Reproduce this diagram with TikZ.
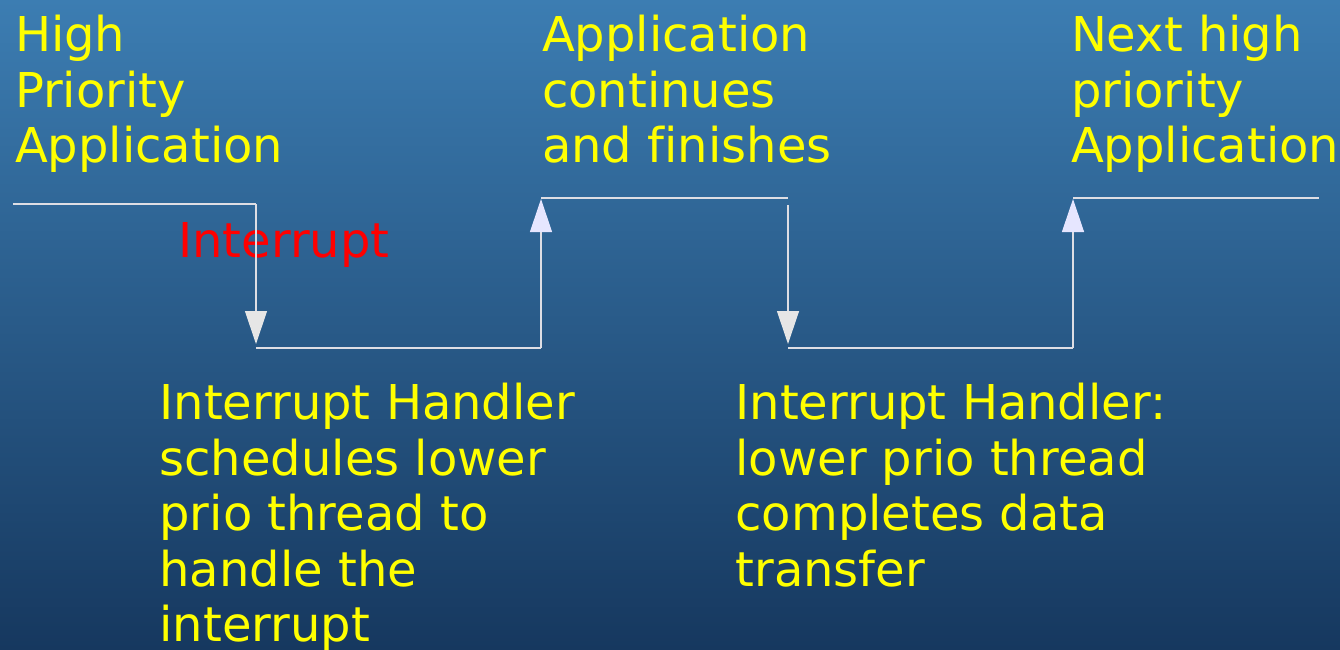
\documentclass[tikz,border=0pt]{standalone}
\usepackage{fontspec}
\setmainfont{DejaVu Sans}[Ligatures=NoCommon]
\usetikzlibrary{arrows.meta}
\definecolor{bgtop}{RGB}{60,125,178}
\definecolor{bgbot}{RGB}{22,56,95}
\definecolor{wire}{RGB}{222,222,228}
\definecolor{downfill}{RGB}{230,230,230}
\definecolor{upfill}{RGB}{230,230,255}
\definecolor{txtyellow}{RGB}{255,255,0}
\definecolor{txtred}{RGB}{255,0,0}
\tikzset{
  label text/.style={font=\fontsize{48}{55.5}\selectfont, text=txtyellow, inner sep=0pt, outer sep=0pt, align=left, anchor=north west},
  wireline/.style={draw=wire, line width=1.2pt},
  downarrow/.style={wireline, -{Triangle[width=22pt,length=33pt,color=downfill]}},
  uparrow/.style={wireline, -{Triangle[width=22pt,length=33pt,color=upfill]}},
}
\begin{document}
\begin{tikzpicture}[x=1pt,y=-1pt]
\shade[top color=bgtop, bottom color=bgbot] (0,0) rectangle (1340,649);
\useasboundingbox (0,0) rectangle (1340,649);

% texts
\node[label text] (t1) at (15,15.5) {High\\Priority\\Application};
\node[label text] (t2) at (542,15.5) {Application\\continues\\and finishes};
\node[label text] (t3) at (1071,15.5) {Next high\\priority\\Application};
\node[font=\fontsize{48}{55.5}\selectfont, text=txtred, inner sep=0pt, anchor=base west] (irq) at (178,257) {Interrupt};
\node[label text] (h1) at (159.5,383.5) {Interrupt Handler\\schedules lower\\prio thread to\\handle the\\interrupt};
\node[label text] (h2) at (735.5,383.5) {Interrupt Handler:\\lower prio thread\\completes data\\transfer};

% coordinates of the timeline
\coordinate (a0) at (13,204);
\coordinate (a1) at (256,204);
\coordinate (a2) at (256,344);
\coordinate (b0) at (256,348);
\coordinate (b1) at (541,348);
\coordinate (b2) at (541,199);
\coordinate (c0) at (541,198);
\coordinate (c1) at (788,198);
\coordinate (c2) at (788,205);
\coordinate (c3) at (788,344);
\coordinate (d0) at (788,348);
\coordinate (d1) at (1073,348);
\coordinate (d2) at (1073,199);
\coordinate (e0) at (1073,198);
\coordinate (e1) at (1319,198);

\draw[wireline] (a0) -- (a1);
\draw[downarrow] (a1) -- (a2);
\draw[wireline] (b0) -- (b1);
\draw[uparrow] (b1) -- (b2);
\draw[wireline] (c0) -- (c1);
\draw[downarrow] (c2) -- (c3);
\draw[wireline] (d0) -- (d1);
\draw[uparrow] (d1) -- (d2);
\draw[wireline] (e0) -- (e1);
\end{tikzpicture}
\end{document}
